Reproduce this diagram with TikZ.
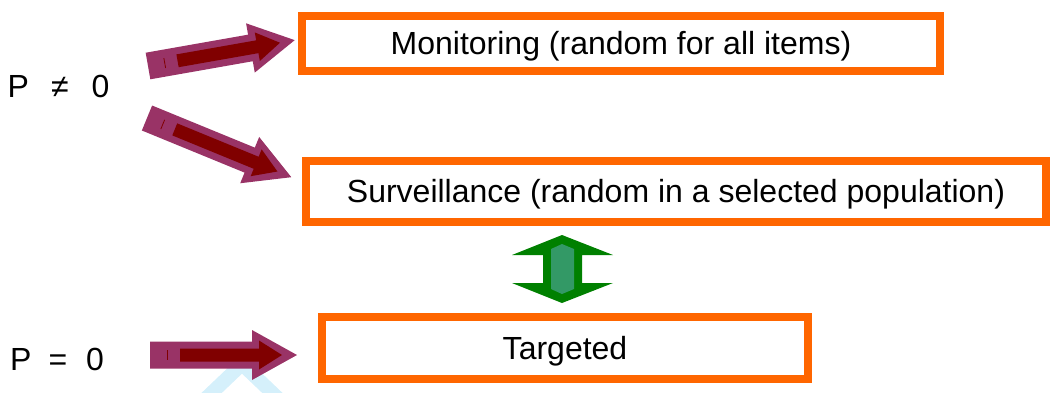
\documentclass[tikz,border=0pt]{standalone}
\usepackage{fontspec}
\setmainfont{Liberation Sans}
\definecolor{boxorange}{HTML}{FF6600}
\definecolor{arrowmag}{HTML}{993366}
\definecolor{arrowred}{HTML}{800000}
\definecolor{dgreen}{HTML}{008000}
\definecolor{lgreen}{HTML}{339966}
\definecolor{lblue}{HTML}{D5F0FB}
\newcommand{\lowertxt}[1]{\raisebox{-3pt}[\height][\depth]{#1}}
\begin{document}
\begin{tikzpicture}[x=1pt,y=-1pt,
  box/.style={draw=boxorange, line width=8pt, fill=white, rectangle, inner sep=0pt,
    font=\fontsize{32}{38}\selectfont},
  lbl/.style={inner sep=0pt, anchor=base west, font=\fontsize{32}{38}\selectfont},
  pics/blockarrow/.style={code={
    \fill[arrowmag] (0,-13.5) -- (#1-45,-13.5) -- (#1-45,-25) -- (#1,0) -- (#1-45,25) -- (#1-45,13.5) -- (0,13.5) -- cycle;
    \fill[arrowred] (30,-6.5) -- (#1-38,-6.5) -- (#1-38,-14.5) -- (#1-15,0) -- (#1-38,14.5) -- (#1-38,6.5) -- (30,6.5) -- cycle;
    \draw[arrowred, line width=0.8pt] (17,-5) -- (17,5);
  }}]
\useasboundingbox (0,0) rectangle (1053,392);

% light blue decoration (partly hidden)
\draw[lblue, line width=14pt] (200,404) -- (242,364) -- (284,404);

% boxes
\node[box, minimum width=638, minimum height=55] (mon) at (621,43.5) {\lowertxt{Monitoring (random for all items)}};
\node[box, minimum width=740, minimum height=61] (sur) at (676,191.5) {\lowertxt{Surveillance (random in a selected population)}};
\node[box, minimum width=486, minimum height=62] (tar) at (565,348) {\lowertxt{Targeted}};

% labels
\node[lbl] (pne) at (7.5,97) {P\hspace{22pt}≠\hspace{23pt}0};
\node[lbl] (peq) at (10,370) {P\hspace{17pt}=\hspace{19pt}0};

% block arrows
\coordinate (t1) at (148,66);
\coordinate (t2) at (147,118);
\coordinate (t3) at (150,355);
\pic[rotate=10] at (t1) {blockarrow=149};
\pic[rotate=-22.3] at (t2) {blockarrow=156};
\pic at (t3) {blockarrow=147};

% green double arrow between surveillance and targeted
\fill[dgreen] (562,235) -- (613,255) -- (582,255) -- (582,283) -- (613,283) -- (562,303)
  -- (512,283) -- (543,283) -- (543,255) -- (512,255) -- cycle;
\fill[lgreen] (551,249) -- (562,244) -- (574,249) -- (574,289) -- (562,294) -- (551,289) -- cycle;
\end{tikzpicture}
\end{document}
